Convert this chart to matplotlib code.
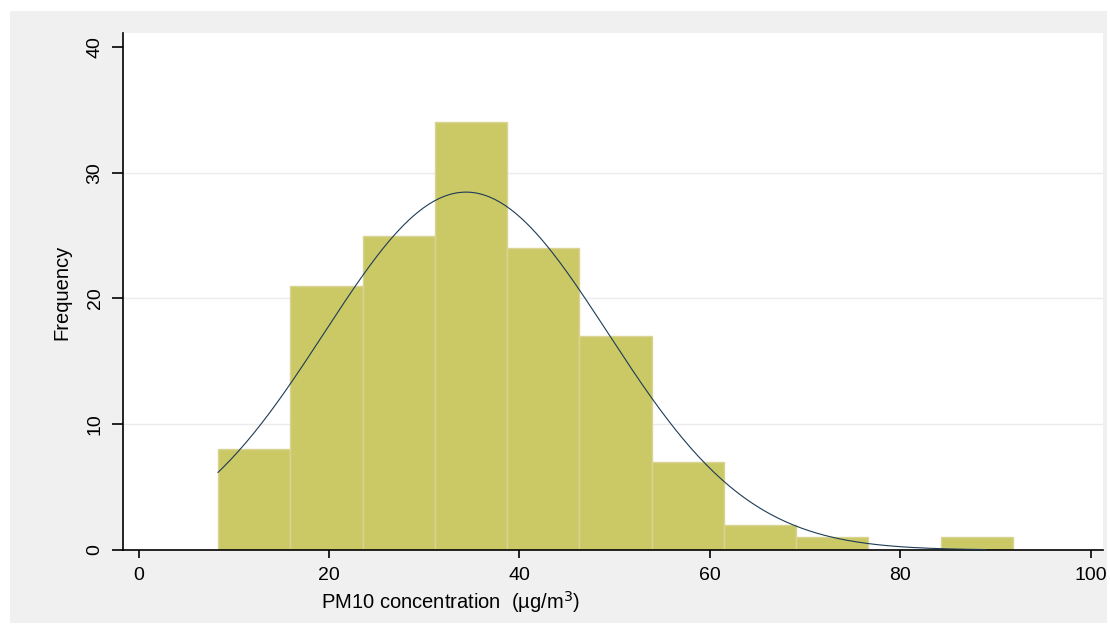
import numpy as np
import matplotlib.pyplot as plt
from matplotlib.patches import Rectangle

# --- data ---
bin_start = 8.35
bin_width = 7.59
counts = [8, 21, 25, 34, 24, 17, 7, 2, 1, 0, 1]
n_obs = sum(counts)

# normal fit drawn over the bars
fit_mean = 34.4
fit_sd = 14.9
fit_range = (8.35, 89.0)

x_ticks = [0, 20, 40, 60, 80, 100]
y_ticks = [0, 10, 20, 30, 40]
grid_levels = [10, 20, 30]

W, H = 1110, 628
BAR = "#cbc866"
EDGE = "#d9d394"
CURVE = "#1d3b55"
BG = "#f0f0f0"

plt.rcParams['font.family'] = ['Liberation Sans', 'DejaVu Sans']

fig = plt.figure(figsize=(W / 100, H / 100), dpi=100)
fig.patch.set_facecolor("white")
# grey Stata-like backdrop, kept behind the axes
fig.patches.append(Rectangle((10 / W, 1 - 623 / H), (1107 - 10) / W, (623 - 11) / H,
                             transform=fig.transFigure, facecolor=BG, edgecolor="none", zorder=-10))

ax = fig.add_axes([123 / W, 1 - 550 / H, (1103 - 123) / W, (550 - 33) / H])
ax.set_zorder(1)
ax.set_facecolor("white")

edges = bin_start + bin_width * np.arange(len(counts) + 1)
ax.bar(edges[:-1], counts, width=bin_width, align="edge", color=BAR,
       edgecolor=EDGE, linewidth=1.0, zorder=2)

xs = np.linspace(fit_range[0], fit_range[1], 300)
dens = n_obs * bin_width / (fit_sd * np.sqrt(2 * np.pi)) * np.exp(-0.5 * ((xs - fit_mean) / fit_sd) ** 2)
ax.plot(xs, dens, color=CURVE, linewidth=0.8, zorder=3)

for g in grid_levels:
    ax.axhline(g, color="#ebebeb", linewidth=1.0, zorder=1)

ax.set_xlim(-1.63, 101.3)
ax.set_ylim(0, 41.1)
ax.set_xticks(x_ticks)
ax.set_yticks(y_ticks)
ax.set_yticklabels([str(t) for t in y_ticks], rotation=90, va="center")

for s in ["top", "right"]:
    ax.spines[s].set_visible(False)
for s in ["left", "bottom"]:
    ax.spines[s].set_linewidth(1.2)
    ax.spines[s].set_color("black")

ax.tick_params(axis="y", length=8, width=1.2, pad=6, labelsize=14, colors="black")
ax.tick_params(axis="x", length=6, width=1.2, pad=6, labelsize=14, colors="black")

fig.text(62 / W, 1 - 292 / H, "Frequency", rotation=90, ha="center", va="center", fontsize=14.5)
fig.text(451 / W, 1 - 602 / H, "PM10 concentration  (\u00b5g/m$^3$)", ha="center", va="center", fontsize=14.5)

fig.savefig("out.png", dpi=100)
